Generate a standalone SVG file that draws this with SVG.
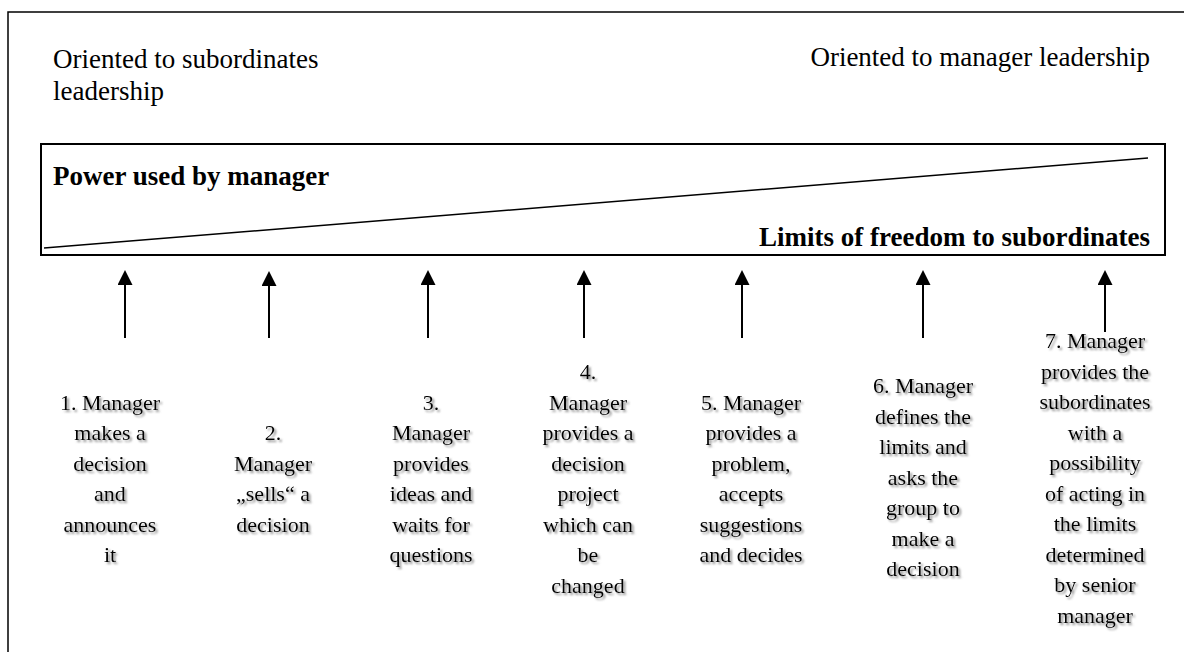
<svg xmlns="http://www.w3.org/2000/svg" width="1184" height="652" viewBox="0 0 1184 652">
<style>
.t{font-family:"Liberation Serif","Times New Roman",serif;fill:#000}
.big{font-size:27px}
.b{font-weight:bold}
.lab{font-size:22px;text-anchor:middle;filter:url(#sh)}
.ln{stroke:#000;fill:none}
.arr{stroke:#000;stroke-width:2;marker-end:url(#ah)}
</style>
<defs>
<filter id="sh" x="-20%" y="-20%" width="140%" height="140%">
<feDropShadow dx="2" dy="2" stdDeviation="1.2" flood-color="#707070" flood-opacity="0.8"/>
</filter>
<marker id="ah" markerUnits="userSpaceOnUse" markerWidth="15" markerHeight="15" refX="0" refY="7.5" orient="auto" viewBox="0 0 15 15">
<path d="M0,0 L15,7.5 L0,15 z" fill="#000"/>
</marker>
</defs>
<rect width="1184" height="652" fill="#fff"/>
<g id="frame">
<path class="ln" stroke-width="1.5" d="M8,652 L8,12 L1184,12"/>
</g>
<g id="header-left"><text class="t big" x="53" y="68">Oriented to subordinates</text><text class="t big" x="53" y="100">leadership</text></g>
<g id="header-right"><text class="t big" x="1150" y="66" text-anchor="end">Oriented to manager leadership</text></g>
<g id="scale">
<rect x="41" y="144" width="1124" height="111" class="ln" stroke-width="2"/>
<line x1="44" y1="248" x2="1148" y2="158" class="ln" stroke-width="1.5"/>
<text class="t big b" x="53" y="185">Power used by manager</text>
<text class="t big b" x="1150" y="246" text-anchor="end">Limits of freedom to subordinates</text>
</g>
<g id="connectors">
<line class="arr" x1="125" y1="338" x2="125" y2="285"/>
<line class="arr" x1="269" y1="338" x2="269" y2="286"/>
<line class="arr" x1="428" y1="338" x2="428" y2="285"/>
<line class="arr" x1="584" y1="338" x2="584" y2="285"/>
<line class="arr" x1="742" y1="338" x2="742" y2="285"/>
<line class="arr" x1="923" y1="338" x2="923" y2="285"/>
<line class="arr" x1="1105" y1="332" x2="1105" y2="285"/>
</g>
<g id="n1"><text class="t lab"><tspan x="110" y="409.5">1. Manager</tspan><tspan x="110" y="440">makes a</tspan><tspan x="110" y="470.5">decision</tspan><tspan x="110" y="501">and</tspan><tspan x="110" y="531.5">announces</tspan><tspan x="110" y="562">it</tspan></text></g>
<g id="n2"><text class="t lab"><tspan x="273" y="440">2.</tspan><tspan x="273" y="470.5">Manager</tspan><tspan x="273" y="501">„sells“ a</tspan><tspan x="273" y="531.5">decision</tspan></text></g>
<g id="n3"><text class="t lab"><tspan x="431" y="409.5">3.</tspan><tspan x="431" y="440">Manager</tspan><tspan x="431" y="470.5">provides</tspan><tspan x="431" y="501">ideas and</tspan><tspan x="431" y="531.5">waits for</tspan><tspan x="431" y="562">questions</tspan></text></g>
<g id="n4"><text class="t lab"><tspan x="588" y="379">4.</tspan><tspan x="588" y="409.5">Manager</tspan><tspan x="588" y="440">provides a</tspan><tspan x="588" y="470.5">decision</tspan><tspan x="588" y="501">project</tspan><tspan x="588" y="531.5">which can</tspan><tspan x="588" y="562">be</tspan><tspan x="588" y="592.5">changed</tspan></text></g>
<g id="n5"><text class="t lab"><tspan x="751" y="409.5">5. Manager</tspan><tspan x="751" y="440">provides a</tspan><tspan x="751" y="470.5">problem,</tspan><tspan x="751" y="501">accepts</tspan><tspan x="751" y="531.5">suggestions</tspan><tspan x="751" y="562">and decides</tspan></text></g>
<g id="n6"><text class="t lab"><tspan x="923" y="393">6. Manager</tspan><tspan x="923" y="423.5">defines the</tspan><tspan x="923" y="454">limits and</tspan><tspan x="923" y="484.5">asks the</tspan><tspan x="923" y="515">group to</tspan><tspan x="923" y="545.5">make a</tspan><tspan x="923" y="576">decision</tspan></text></g>
<g id="n7"><text class="t lab"><tspan x="1095" y="348">7. Manager</tspan><tspan x="1095" y="378.5">provides the</tspan><tspan x="1095" y="409">subordinates</tspan><tspan x="1095" y="439.5">with a</tspan><tspan x="1095" y="470">possibility</tspan><tspan x="1095" y="500.5">of acting in</tspan><tspan x="1095" y="531">the limits</tspan><tspan x="1095" y="561.5">determined</tspan><tspan x="1095" y="592">by senior</tspan><tspan x="1095" y="622.5">manager</tspan></text></g>
</svg>
